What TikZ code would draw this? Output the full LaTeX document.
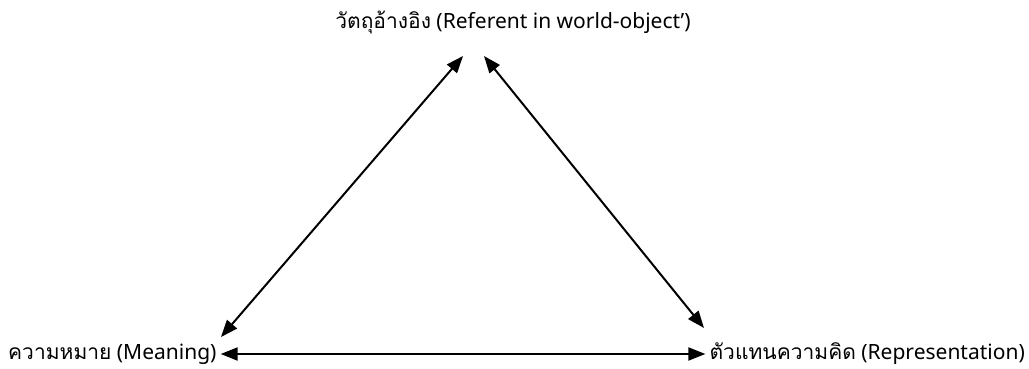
\documentclass[tikz,border=0pt]{standalone}
\usepackage{fontspec}
\setmainfont{Noto Sans}
\newfontfamily\thaifont[Script=Thai]{Loma}
\usetikzlibrary{
  arrows.meta % For arrow tips
}

\begin{document}
\begin{tikzpicture}[
      x=1pt, y=-1pt, % pixel-like units
      >={Triangle[length=17pt, width=13pt]}, % Default arrow tip
      term/.style={inner sep=0pt, font=\fontsize{21}{24}\selectfont}, % Style for labels
      link/.style={line width=2pt, <->}, % Style for double arrows
    ]
    \useasboundingbox (0,0) rectangle (1029,369);

    % Begriffe
    \node[term] (referent) at (513,22)
      {{\thaifont วัตถุอ้างอิง} (Referent in world-object’)};
    \node[term, anchor=west] (meaning) at (8,354)
      {{\thaifont ความหมาย} (Meaning)};
    \node[term, anchor=east] (repres) at (1025,354)
      {{\thaifont ตัวแทนความคิด} (Representation)};

    % Endpunkte der Pfeile
    \coordinate (refL) at (463,56);
    \coordinate (refR) at (484,56);
    \coordinate (meanT) at (221,337);
    \coordinate (repT) at (704,328);

    % Pfeile
    \draw[link] (meanT) -- (refL);
    \draw[link] (refR) -- (repT);
    \draw[link, shorten <=4pt, shorten >=4pt] (meaning) -- (repres);

  \end{tikzpicture}
\end{document}
